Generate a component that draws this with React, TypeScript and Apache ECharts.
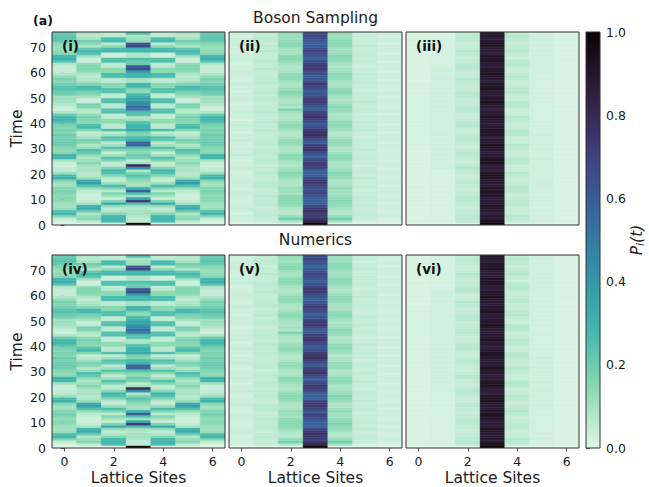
import React, { useEffect, useRef } from "react";
import * as echarts from "echarts";

// ---------- data ----------
const SITES = [0, 1, 2, 3, 4, 5, 6];
const N_ROWS = 76;
const TIME_MAX = 76;
const X_TICKS = [0, 2, 4, 6];
const Y_TICKS = [0, 10, 20, 30, 40, 50, 60, 70];
const CBAR_TICKS = [0, 0.2, 0.4, 0.6, 0.8, 1.0];
const PANEL_LABELS = ["(i)", "(ii)", "(iii)", "(iv)", "(v)", "(vi)"];
const ROW_TITLES = ["Boson Sampling", "Numerics"];
// mako_r colormap stops (value 0 -> 1)
const MAKO_R = ["#def5e5", "#8bdab2", "#40b7ad", "#348fa7", "#37659e", "#413d7b", "#2e1e3b", "#0b0405"];

// Panel (i)/(iv): free walk, P_i(t) per row t = 0..75 (walk is mirror symmetric: site 6=0, 5=1, 4=2)
const walkSite0 = [
  0, 0.02, 0.05, 0.16, 0.3, 0.25, 0.12, 0.1, 0.11, 0.14,
  0.16, 0.13, 0.16, 0.18, 0.16, 0.11, 0.1, 0.16, 0.3, 0.27,
  0.11, 0.06, 0.05, 0.03, 0.04, 0.1, 0.28, 0.31, 0.16, 0.14,
  0.16, 0.19, 0.21, 0.19, 0.18, 0.2, 0.16, 0.18, 0.16, 0.18,
  0.24, 0.3, 0.28, 0.21, 0.08, 0.03, 0.04, 0.08, 0.1, 0.11,
  0.1, 0.18, 0.21, 0.24, 0.24, 0.19, 0.16, 0.18, 0.14, 0.08,
  0.05, 0.04, 0.05, 0.08, 0.24, 0.32, 0.29, 0.16, 0.13, 0.12,
  0.13, 0.16, 0.21, 0.24, 0.22, 0.21,
];
const walkSite1 = [
  0, 0.06, 0.16, 0.12, 0.08, 0.2, 0.34, 0.3, 0.1, 0.04,
  0.03, 0.03, 0.04, 0.06, 0.12, 0.25, 0.38, 0.34, 0.12, 0.08,
  0.06, 0.1, 0.08, 0.11, 0.16, 0.11, 0.08, 0.13, 0.22, 0.26,
  0.13, 0.08, 0.16, 0.18, 0.11, 0.06, 0.05, 0.16, 0.28, 0.24,
  0.14, 0.16, 0.18, 0.14, 0.06, 0.08, 0.16, 0.18, 0.05, 0.03,
  0.1, 0.16, 0.18, 0.26, 0.28, 0.16, 0.1, 0.08, 0.06, 0.08,
  0.14, 0.16, 0.16, 0.13, 0.03, 0.03, 0.1, 0.24, 0.28, 0.22,
  0.08, 0.16, 0.19, 0.1, 0.06, 0.08,
];
const walkSite2 = [
  0, 0.26, 0.3, 0.28, 0.16, 0.08, 0.06, 0.12, 0.34, 0.16,
  0.04, 0.1, 0.16, 0.06, 0.16, 0.27, 0.12, 0.05, 0.06, 0.16,
  0.25, 0.3, 0.16, 0.06, 0.05, 0.16, 0.25, 0.11, 0.05, 0.14,
  0.25, 0.11, 0.06, 0.21, 0.25, 0.1, 0.06, 0.25, 0.06, 0.06,
  0.14, 0.14, 0.05, 0.05, 0.25, 0.25, 0.06, 0.06, 0.25, 0.25,
  0.05, 0.05, 0.25, 0.25, 0.16, 0.16, 0.06, 0.06, 0.27, 0.27,
  0.14, 0.14, 0.06, 0.06, 0.25, 0.25, 0.03, 0.03, 0.27, 0.27,
  0.13, 0.06, 0.27, 0.27, 0.06, 0.06,
];
const walkSite3 = [
  1, 0.06, 0.05, 0.08, 0.11, 0.1, 0.08, 0.1, 0.25, 0.72,
  0.34, 0.1, 0.25, 0.6, 0.3, 0.11, 0.1, 0.14, 0.18, 0.25,
  0.16, 0.08, 0.42, 0.8, 0.1, 0.06, 0.18, 0.21, 0.14, 0.16,
  0.25, 0.55, 0.6, 0.3, 0.27, 0.16, 0.18, 0.34, 0.3, 0.28,
  0.25, 0.1, 0.08, 0.25, 0.25, 0.5, 0.55, 0.45, 0.4, 0.36,
  0.3, 0.27, 0.14, 0.16, 0.28, 0.3, 0.1, 0.1, 0.3, 0.28,
  0.4, 0.66, 0.62, 0.21, 0.2, 0.25, 0.08, 0.08, 0.28, 0.3,
  0.68, 0.62, 0.12, 0.11, 0.08, 0.25,
];

// Panel (ii)/(v)
const weakSite0 = [
  0, 0.02, 0.03, 0.03, 0.02, 0.03, 0.04, 0.03, 0.03, 0.02,
  0.03, 0.03, 0.04, 0.03, 0.02, 0.03, 0.03, 0.04, 0.03, 0.03,
  0.02, 0.03, 0.04, 0.03, 0.03, 0.02, 0.03, 0.04, 0.03, 0.03,
  0.03, 0.02, 0.03, 0.04, 0.03, 0.03, 0.02, 0.03, 0.03, 0.04,
  0.03, 0.02, 0.03, 0.03, 0.04, 0.03, 0.03, 0.02, 0.03, 0.04,
  0.03, 0.03, 0.02, 0.03, 0.03, 0.04, 0.03, 0.02, 0.03, 0.03,
  0.04, 0.03, 0.03, 0.02, 0.03, 0.04, 0.03, 0.03, 0.02, 0.03,
  0.03, 0.04, 0.03, 0.03, 0.02, 0.03,
];
const weakSite1 = [
  0, 0.04, 0.05, 0.05, 0.06, 0.05, 0.04, 0.05, 0.06, 0.05,
  0.05, 0.06, 0.05, 0.04, 0.05, 0.06, 0.06, 0.05, 0.04, 0.05,
  0.06, 0.05, 0.05, 0.04, 0.05, 0.06, 0.05, 0.05, 0.06, 0.05,
  0.04, 0.05, 0.06, 0.05, 0.05, 0.04, 0.05, 0.06, 0.05, 0.05,
  0.06, 0.05, 0.04, 0.05, 0.06, 0.05, 0.05, 0.04, 0.05, 0.06,
  0.05, 0.05, 0.06, 0.05, 0.04, 0.05, 0.06, 0.05, 0.05, 0.04,
  0.05, 0.06, 0.05, 0.05, 0.06, 0.05, 0.04, 0.05, 0.06, 0.05,
  0.05, 0.04, 0.05, 0.06, 0.05, 0.05,
];
const weakSite2 = [
  0, 0.08, 0.2, 0.12, 0.07, 0.07, 0.09, 0.12, 0.15, 0.14,
  0.15, 0.13, 0.1, 0.11, 0.12, 0.09, 0.08, 0.09, 0.11, 0.14,
  0.15, 0.13, 0.1, 0.08, 0.09, 0.11, 0.14, 0.15, 0.1, 0.08,
  0.09, 0.11, 0.14, 0.12, 0.09, 0.07, 0.08, 0.1, 0.13, 0.14,
  0.12, 0.1, 0.08, 0.09, 0.1, 0.18, 0.08, 0.12, 0.08, 0.09,
  0.11, 0.14, 0.15, 0.12, 0.1, 0.08, 0.1, 0.13, 0.15, 0.13,
  0.1, 0.08, 0.08, 0.1, 0.13, 0.15, 0.14, 0.11, 0.09, 0.11,
  0.14, 0.15, 0.13, 0.11, 0.12, 0.13,
];
const weakSite3 = [
  1, 0.82, 0.78, 0.72, 0.74, 0.76, 0.74, 0.68, 0.6, 0.58,
  0.6, 0.63, 0.69, 0.67, 0.62, 0.7, 0.73, 0.73, 0.68, 0.6,
  0.58, 0.6, 0.68, 0.73, 0.73, 0.68, 0.61, 0.6, 0.68, 0.75,
  0.75, 0.7, 0.62, 0.64, 0.72, 0.77, 0.77, 0.72, 0.66, 0.62,
  0.64, 0.7, 0.75, 0.75, 0.7, 0.62, 0.6, 0.68, 0.73, 0.73,
  0.68, 0.62, 0.6, 0.64, 0.7, 0.73, 0.68, 0.62, 0.6, 0.62,
  0.68, 0.73, 0.73, 0.7, 0.64, 0.6, 0.62, 0.68, 0.7, 0.66,
  0.6, 0.58, 0.62, 0.66, 0.68, 0.66,
];
const weakSite4 = [
  0, 0.1, 0.2, 0.12, 0.08, 0.07, 0.1, 0.12, 0.14, 0.15,
  0.14, 0.12, 0.1, 0.1, 0.13, 0.1, 0.08, 0.08, 0.12, 0.14,
  0.16, 0.12, 0.1, 0.09, 0.08, 0.12, 0.14, 0.14, 0.11, 0.08,
  0.08, 0.12, 0.13, 0.12, 0.1, 0.08, 0.07, 0.1, 0.12, 0.15,
  0.13, 0.1, 0.09, 0.08, 0.11, 0.13, 0.14, 0.12, 0.09, 0.08,
  0.1, 0.13, 0.15, 0.13, 0.1, 0.09, 0.1, 0.12, 0.14, 0.14,
  0.11, 0.09, 0.08, 0.1, 0.12, 0.14, 0.15, 0.12, 0.1, 0.1,
  0.13, 0.15, 0.14, 0.12, 0.11, 0.12,
];
const weakSite5 = [
  0, 0.02, 0.04, 0.04, 0.05, 0.04, 0.04, 0.05, 0.04, 0.04,
  0.05, 0.04, 0.04, 0.03, 0.04, 0.05, 0.04, 0.04, 0.05, 0.04,
  0.04, 0.05, 0.04, 0.03, 0.04, 0.04, 0.05, 0.04, 0.04, 0.05,
  0.04, 0.04, 0.05, 0.04, 0.03, 0.04, 0.04, 0.05, 0.04, 0.04,
  0.05, 0.04, 0.04, 0.03, 0.04, 0.05, 0.04, 0.04, 0.05, 0.04,
  0.04, 0.05, 0.04, 0.03, 0.04, 0.04, 0.05, 0.04, 0.04, 0.05,
  0.04, 0.04, 0.03, 0.04, 0.05, 0.04, 0.04, 0.05, 0.04, 0.04,
  0.05, 0.04, 0.04, 0.03, 0.04, 0.04,
];
const weakSite6 = [
  0, 0.01, 0.02, 0.03, 0.03, 0.02, 0.03, 0.03, 0.02, 0.03,
  0.03, 0.02, 0.03, 0.03, 0.03, 0.02, 0.03, 0.03, 0.02, 0.03,
  0.03, 0.03, 0.02, 0.03, 0.03, 0.02, 0.03, 0.03, 0.03, 0.02,
  0.03, 0.03, 0.02, 0.03, 0.03, 0.03, 0.02, 0.03, 0.03, 0.02,
  0.03, 0.03, 0.03, 0.02, 0.03, 0.03, 0.02, 0.03, 0.03, 0.03,
  0.02, 0.03, 0.03, 0.02, 0.03, 0.03, 0.03, 0.02, 0.03, 0.03,
  0.02, 0.03, 0.03, 0.03, 0.02, 0.03, 0.03, 0.02, 0.03, 0.03,
  0.03, 0.02, 0.03, 0.03, 0.02, 0.03,
];

// Panel (iii)/(vi)
const strongSite0 = [
  0, 0.01, 0.01, 0.01, 0.01, 0.01, 0.01, 0.01, 0.01, 0.01,
  0.01, 0.01, 0.01, 0.01, 0.01, 0.01, 0.01, 0.01, 0.01, 0.01,
  0.01, 0.01, 0.01, 0.01, 0.01, 0.01, 0.01, 0.01, 0.01, 0.01,
  0.015, 0.015, 0.015, 0.015, 0.015, 0.015, 0.015, 0.015, 0.015, 0.015,
  0.015, 0.015, 0.015, 0.015, 0.015, 0.015, 0.015, 0.015, 0.015, 0.015,
  0.015, 0.015, 0.015, 0.015, 0.015, 0.015, 0.01, 0.01, 0.01, 0.01,
  0.01, 0.01, 0.01, 0.01, 0.01, 0.01, 0.01, 0.01, 0.01, 0.01,
  0.01, 0.01, 0.01, 0.01, 0.01, 0.01,
];
const strongSite1 = [
  0, 0.015, 0.015, 0.015, 0.015, 0.015, 0.015, 0.015, 0.015, 0.015,
  0.015, 0.015, 0.015, 0.015, 0.015, 0.015, 0.015, 0.015, 0.015, 0.015,
  0.015, 0.015, 0.025, 0.025, 0.025, 0.025, 0.025, 0.025, 0.025, 0.025,
  0.025, 0.025, 0.025, 0.025, 0.025, 0.025, 0.025, 0.025, 0.025, 0.025,
  0.025, 0.025, 0.025, 0.025, 0.025, 0.025, 0.025, 0.025, 0.025, 0.025,
  0.025, 0.025, 0.025, 0.025, 0.025, 0.025, 0.025, 0.025, 0.025, 0.025,
  0.025, 0.025, 0.015, 0.015, 0.015, 0.015, 0.015, 0.015, 0.015, 0.015,
  0.015, 0.015, 0.015, 0.015, 0.015, 0.015,
];
const strongSite2 = [
  0, 0.05, 0.07, 0.06, 0.06, 0.05, 0.04, 0.04, 0.05, 0.06,
  0.07, 0.06, 0.05, 0.04, 0.04, 0.05, 0.06, 0.06, 0.04, 0.04,
  0.05, 0.06, 0.07, 0.06, 0.04, 0.04, 0.05, 0.06, 0.07, 0.05,
  0.04, 0.04, 0.05, 0.06, 0.07, 0.05, 0.04, 0.04, 0.06, 0.07,
  0.06, 0.05, 0.04, 0.04, 0.05, 0.07, 0.06, 0.05, 0.04, 0.04,
  0.06, 0.07, 0.06, 0.04, 0.04, 0.05, 0.06, 0.07, 0.05, 0.04,
  0.04, 0.06, 0.07, 0.06, 0.05, 0.04, 0.04, 0.06, 0.07, 0.05,
  0.04, 0.04, 0.05, 0.06, 0.06, 0.05,
];
const strongSite3 = [
  1, 0.93, 0.9, 0.88, 0.87, 0.88, 0.9, 0.91, 0.89, 0.87,
  0.86, 0.88, 0.9, 0.92, 0.9, 0.88, 0.87, 0.88, 0.91, 0.92,
  0.9, 0.87, 0.86, 0.88, 0.91, 0.92, 0.89, 0.87, 0.86, 0.88,
  0.91, 0.92, 0.9, 0.87, 0.87, 0.89, 0.92, 0.91, 0.88, 0.86,
  0.87, 0.9, 0.92, 0.91, 0.88, 0.86, 0.87, 0.9, 0.92, 0.9,
  0.88, 0.86, 0.88, 0.91, 0.92, 0.89, 0.87, 0.87, 0.9, 0.92,
  0.91, 0.88, 0.86, 0.87, 0.9, 0.92, 0.9, 0.87, 0.86, 0.88,
  0.91, 0.92, 0.89, 0.87, 0.88, 0.9,
];
const strongSite4 = [
  0, 0.04, 0.06, 0.07, 0.05, 0.04, 0.04, 0.05, 0.07, 0.06,
  0.05, 0.04, 0.04, 0.06, 0.07, 0.06, 0.05, 0.04, 0.04, 0.06,
  0.07, 0.05, 0.04, 0.04, 0.06, 0.07, 0.06, 0.04, 0.04, 0.05,
  0.06, 0.07, 0.05, 0.04, 0.04, 0.06, 0.07, 0.06, 0.04, 0.04,
  0.05, 0.06, 0.07, 0.05, 0.04, 0.04, 0.06, 0.07, 0.06, 0.04,
  0.04, 0.05, 0.07, 0.06, 0.05, 0.04, 0.04, 0.06, 0.07, 0.05,
  0.04, 0.04, 0.06, 0.07, 0.06, 0.04, 0.04, 0.05, 0.07, 0.06,
  0.05, 0.04, 0.05, 0.06, 0.07, 0.05,
];
const strongSite5 = [
  0, 0.02, 0.02, 0.02, 0.02, 0.02, 0.02, 0.02, 0.02, 0.02,
  0.02, 0.02, 0.02, 0.02, 0.02, 0.028, 0.028, 0.028, 0.028, 0.028,
  0.028, 0.028, 0.028, 0.028, 0.028, 0.028, 0.028, 0.028, 0.028, 0.028,
  0.028, 0.028, 0.028, 0.028, 0.028, 0.028, 0.02, 0.02, 0.02, 0.02,
  0.02, 0.02, 0.02, 0.02, 0.02, 0.02, 0.02, 0.02, 0.02, 0.02,
  0.02, 0.02, 0.02, 0.02, 0.02, 0.02, 0.02, 0.02, 0.02, 0.02,
  0.026, 0.026, 0.026, 0.026, 0.026, 0.026, 0.026, 0.026, 0.026, 0.026,
  0.026, 0.026, 0.026, 0.026, 0.026, 0.026,
];
const strongSite6 = [
  0, 0.012, 0.012, 0.012, 0.012, 0.012, 0.012, 0.012, 0.012, 0.012,
  0.012, 0.012, 0.012, 0.012, 0.012, 0.012, 0.012, 0.012, 0.012, 0.012,
  0.012, 0.012, 0.012, 0.012, 0.012, 0.012, 0.012, 0.012, 0.012, 0.012,
  0.012, 0.012, 0.012, 0.012, 0.012, 0.012, 0.012, 0.012, 0.012, 0.012,
  0.012, 0.012, 0.012, 0.012, 0.012, 0.012, 0.012, 0.012, 0.012, 0.012,
  0.012, 0.012, 0.012, 0.012, 0.012, 0.012, 0.012, 0.012, 0.012, 0.012,
  0.012, 0.012, 0.012, 0.012, 0.012, 0.012, 0.012, 0.012, 0.012, 0.012,
  0.012, 0.012, 0.012, 0.012, 0.012, 0.012,
];

const walkColumns = [walkSite0, walkSite1, walkSite2, walkSite3, walkSite2, walkSite1, walkSite0];
const weakColumns = [weakSite0, weakSite1, weakSite2, weakSite3, weakSite4, weakSite5, weakSite6];
const strongColumns = [strongSite0, strongSite1, strongSite2, strongSite3, strongSite4, strongSite5, strongSite6];

// ---------- layout ----------
const FONT = "DejaVu Sans";
const TEXT = "#1a1a1a";
const COL_LEFT = [52, 229, 406];
const ROW_TOP = [32, 255];
const PW = 173;
const PH = 193;
const CB = { left: 586, top: 32, width: 14, height: 416 };

function toCells(columns: number[][]) {
  const out: number[][] = [];
  columns.forEach((col, s) => {
    col.forEach((v, r) => out.push([SITES[s], r, v]));
  });
  return out;
}

const ROW_SPAN = TIME_MAX / N_ROWS;

const renderCell = (_params: any, api: any) => {
  const s = api.value(0) as number;
  const r = api.value(1) as number;
  const a = api.coord([s - 0.5, r * ROW_SPAN]);
  const b = api.coord([s + 0.5, (r + 1) * ROW_SPAN]);
  const color = api.visual("color");
  return {
    type: "rect",
    shape: { x: a[0], y: b[1], width: b[0] - a[0], height: a[1] - b[1] },
    style: { fill: color, stroke: color, lineWidth: 0.5 },
  };
};

function buildOption() {
  const datasets = [walkColumns, weakColumns, strongColumns, walkColumns, weakColumns, strongColumns];
  const grids: any[] = [];
  const xAxes: any[] = [];
  const yAxes: any[] = [];
  const series: any[] = [];
  const graphics: any[] = [];

  for (let p = 0; p < 6; p++) {
    const row = Math.floor(p / 3);
    const col = p % 3;
    const left = COL_LEFT[col];
    const top = ROW_TOP[row];
    grids.push({ left, top, width: PW, height: PH, containLabel: false });
    const bottomRow = row === 1;
    const leftCol = col === 0;
    xAxes.push({
      type: "value",
      gridIndex: p,
      min: -0.5,
      max: 6.5,
      show: bottomRow,
      axisLine: { show: false },
      splitLine: { show: false },
      axisTick: { show: bottomRow, customValues: X_TICKS, length: 3.5, lineStyle: { color: TEXT, width: 0.8 } },
      axisLabel: { show: bottomRow, customValues: X_TICKS, fontSize: 12.5, color: TEXT, margin: 7, fontFamily: FONT },
      name: bottomRow ? "Lattice Sites" : "",
      nameLocation: "middle",
      nameGap: 22,
      nameTextStyle: { fontSize: 15.5, color: TEXT, fontFamily: FONT },
    });
    yAxes.push({
      type: "value",
      gridIndex: p,
      min: 0,
      max: TIME_MAX,
      show: leftCol,
      axisLine: { show: false },
      splitLine: { show: false },
      axisTick: { show: leftCol, customValues: Y_TICKS, length: 3.5, lineStyle: { color: TEXT, width: 0.8 } },
      axisLabel: { show: leftCol, customValues: Y_TICKS, fontSize: 12.5, color: TEXT, margin: 6, fontFamily: FONT },
      name: leftCol ? "Time" : "",
      nameLocation: "middle",
      nameRotate: 90,
      nameGap: 27,
      nameTextStyle: { fontSize: 15.5, color: TEXT, fontFamily: FONT },
    });
    series.push({
      type: "custom",
      xAxisIndex: p,
      yAxisIndex: p,
      clip: true,
      data: toCells(datasets[p]),
      encode: { x: 0, y: 1 },
      renderItem: renderCell,
      silent: true,
    });
    graphics.push({
      type: "rect",
      z: 100,
      silent: true,
      shape: { x: left, y: top, width: PW, height: PH },
      style: { fill: "none", stroke: "#333", lineWidth: 1 },
    });
    graphics.push({
      type: "text",
      z: 101,
      x: left + 10,
      y: top + 14,
      style: {
        text: PANEL_LABELS[p],
        fill: "#111",
        fontSize: 13.5,
        fontWeight: "bold",
        fontFamily: FONT,
        align: "left",
        verticalAlign: "middle",
        textAlign: "left",
        textVerticalAlign: "middle",
      },
    });
  }

  // colorbar grid
  const cbIndex = 6;
  grids.push({ left: CB.left, top: CB.top, width: CB.width, height: CB.height });
  xAxes.push({ type: "value", gridIndex: cbIndex, min: 0, max: 1, show: false });
  yAxes.push({
    type: "value",
    gridIndex: cbIndex,
    position: "right",
    min: 0,
    max: 1,
    axisLine: { show: false },
    splitLine: { show: false },
    axisTick: { show: true, customValues: CBAR_TICKS, length: 3.5, lineStyle: { color: TEXT, width: 0.8 } },
    axisLabel: {
      show: true,
      customValues: CBAR_TICKS,
      fontSize: 12.5,
      color: TEXT,
      margin: 6,
      fontFamily: FONT,
      formatter: (v: number) => v.toFixed(1),
    },
  });
  const stops = MAKO_R.map((c, i) => ({ offset: i / (MAKO_R.length - 1), color: c }));
  series.push({
    type: "custom",
    xAxisIndex: cbIndex,
    yAxisIndex: cbIndex,
    data: [[0, 0]],
    silent: true,
    renderItem: (_params: any, api: any) => {
      const a = api.coord([0, 0]);
      const b = api.coord([1, 1]);
      return {
        type: "rect",
        shape: { x: a[0], y: b[1], width: b[0] - a[0], height: a[1] - b[1] },
        style: { fill: new echarts.graphic.LinearGradient(0, 1, 0, 0, stops) },
      };
    },
  });
  graphics.push({
    type: "rect",
    z: 100,
    silent: true,
    shape: { x: CB.left, y: CB.top, width: CB.width, height: CB.height },
    style: { fill: "none", stroke: "#333", lineWidth: 1 },
  });

  // titles
  const centerX = (COL_LEFT[0] + COL_LEFT[2] + PW) / 2;
  graphics.push({
    type: "text",
    x: centerX,
    y: 18,
    style: {
      text: ROW_TITLES[0], fill: TEXT, fontSize: 15.5, fontFamily: FONT,
      align: "center", verticalAlign: "middle", textAlign: "center", textVerticalAlign: "middle",
    },
  });
  graphics.push({
    type: "text",
    x: centerX,
    y: 240,
    style: {
      text: ROW_TITLES[1], fill: TEXT, fontSize: 15.5, fontFamily: FONT,
      align: "center", verticalAlign: "middle", textAlign: "center", textVerticalAlign: "middle",
    },
  });
  graphics.push({
    type: "text",
    x: 33,
    y: 20,
    style: {
      text: "(a)", fill: "#111", fontSize: 12.5, fontWeight: "bold", fontFamily: FONT,
      align: "left", verticalAlign: "middle", textAlign: "left", textVerticalAlign: "middle",
    },
  });
  // colorbar label P_i(t)
  graphics.push({
    type: "text",
    x: 637,
    y: 240,
    rotation: Math.PI / 2,
    style: {
      text: "{p|P}{s|i}{p|(t)}",
      fill: TEXT,
      fontFamily: FONT,
      align: "center",
      verticalAlign: "middle",
      textAlign: "center",
      textVerticalAlign: "middle",
      rich: {
        p: { fontSize: 15.5, fontStyle: "italic", fontFamily: FONT, fill: TEXT, lineHeight: 18, verticalAlign: "middle" },
        s: { fontSize: 11, fontStyle: "italic", fontFamily: FONT, fill: TEXT, lineHeight: 11, verticalAlign: "bottom" },
      },
    },
  });

  return {
    animation: false,
    backgroundColor: "#ffffff",
    grid: grids,
    xAxis: xAxes,
    yAxis: yAxes,
    visualMap: {
      type: "continuous",
      show: false,
      min: 0,
      max: 1,
      dimension: 2,
      seriesIndex: [0, 1, 2, 3, 4, 5],
      inRange: { color: MAKO_R },
    },
    series,
    graphic: { elements: graphics },
  };
}

export default function App() {
  const ref = useRef<HTMLDivElement | null>(null);
  useEffect(() => {
    if (!ref.current) return;
    const chart = echarts.init(ref.current, undefined, { renderer: "svg" });
    chart.setOption(buildOption() as any);
    return () => chart.dispose();
  }, []);
  return (
    <div
      ref={ref}
      style={{ position: "fixed", left: 0, top: 0, width: 649, height: 487, background: "#fff" }}
    />
  );
}
